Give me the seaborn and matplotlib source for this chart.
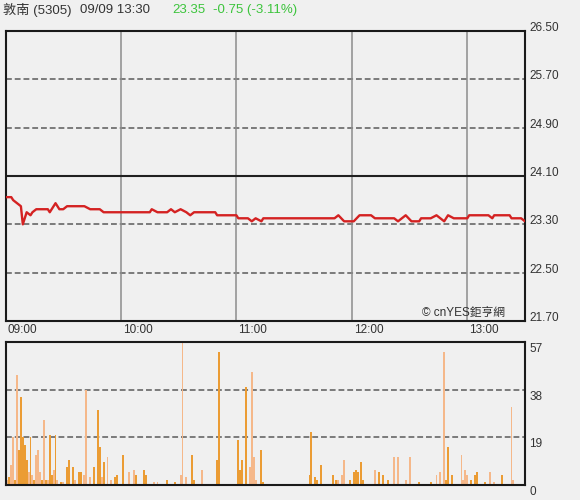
import matplotlib
matplotlib.use('Agg')
import matplotlib.pyplot as plt
import matplotlib.transforms as mtransforms
import seaborn as sns
import pandas as pd

# intraday price (minutes after 09:00, price)
price_min = [0, 3, 4, 6, 8, 9, 11, 13, 14, 16, 22, 23, 24, 26, 28, 30, 32, 38, 41, 44,
             49, 51, 75, 76, 79, 84, 86, 88, 91, 94, 96, 98, 109, 110, 120, 121, 126,
             128, 130, 133, 134, 171, 173, 176, 181, 184, 190, 192, 202, 204, 208, 211,
             215, 216, 221, 224, 228, 230, 233, 240, 241, 251, 253, 254, 262, 263, 268, 270]
price_val = [23.75, 23.75, 23.70, 23.65, 23.60, 23.30, 23.50, 23.45, 23.50, 23.55, 23.55,
             23.50, 23.55, 23.65, 23.55, 23.55, 23.60, 23.60, 23.60, 23.55, 23.55, 23.50,
             23.50, 23.55, 23.50, 23.50, 23.55, 23.50, 23.55, 23.50, 23.45, 23.50, 23.50,
             23.45, 23.45, 23.40, 23.40, 23.35, 23.40, 23.35, 23.40, 23.40, 23.45, 23.35,
             23.35, 23.45, 23.45, 23.40, 23.40, 23.35, 23.45, 23.35, 23.35, 23.40, 23.40,
             23.45, 23.35, 23.45, 23.40, 23.40, 23.45, 23.45, 23.40, 23.45, 23.45, 23.40,
             23.40, 23.35]

# volume per minute; 'P' = light bar, 'O' = orange bar
vol_min = [0, 1, 2, 3, 4, 5, 6, 7, 8, 9, 10, 11, 12, 13, 14, 15, 16, 17, 18, 19, 20, 21,
           22, 23, 24, 25, 26, 27, 29, 30, 32, 33, 35, 36, 38, 39, 41, 42, 44, 46, 48, 49,
           50, 51, 53, 55, 57, 58, 61, 64, 67, 68, 72, 73, 77, 79, 84, 88, 91, 92, 94, 97,
           98, 102, 110, 111, 121, 122, 123, 125, 127, 128, 129, 130, 133, 134, 158, 159,
           161, 162, 164, 170, 172, 173, 175, 176, 179, 181, 182, 183, 185, 186, 192, 194,
           196, 199, 202, 204, 208, 210, 215, 221, 224, 226, 228, 229, 230, 232, 237, 238,
           239, 240, 242, 244, 245, 249, 252, 254, 258, 263, 264, 270]
vol_val = [42, 2, 3, 8, 19, 2, 44, 14, 35, 19, 16, 10, 5, 19, 4, 2, 12, 14, 5, 2, 26, 2,
           2, 20, 4, 6, 20, 2, 1, 1, 7, 10, 7, 2, 5, 5, 4, 38, 3, 7, 30, 15,
           3, 9, 11, 2, 3, 4, 12, 5, 6, 4, 6, 4, 1, 1, 2, 1, 4, 57, 3, 12,
           2, 6, 10, 53, 18, 6, 10, 39, 7, 45, 11, 2, 14, 1, 4, 21,
           3, 2, 8, 4, 2, 2, 4, 10, 2, 5, 6, 5, 9, 2, 6, 5,
           4, 2, 11, 11, 2, 11, 1, 1, 4, 5, 53, 2, 15, 4, 12, 2,
           6, 4, 2, 4, 5, 1, 5, 1, 4, 31, 2, 48]
vol_kind = ['O', 'P', 'O', 'P', 'P', 'O', 'P', 'O', 'O', 'O', 'O', 'O', 'P', 'O', 'P', 'O',
            'P', 'P', 'P', 'O', 'P', 'O', 'P', 'O', 'O', 'P', 'O', 'P', 'O', 'P', 'O', 'O',
            'O', 'P', 'O', 'O', 'P', 'P', 'P', 'O', 'O', 'O', 'P', 'O', 'P', 'P', 'O', 'O',
            'O', 'P', 'P', 'O', 'O', 'O', 'P', 'P', 'O', 'O', 'P', 'P', 'P', 'O', 'O', 'P',
            'O', 'O', 'O', 'O', 'O', 'O', 'P', 'P', 'P', 'P', 'O', 'O', 'O', 'O', 'O', 'O',
            'O', 'O', 'O', 'P', 'P', 'P', 'O', 'O', 'O', 'O', 'O', 'O', 'P', 'O', 'O', 'O',
            'P', 'P', 'P', 'P', 'O', 'O', 'P', 'P', 'P', 'O', 'O', 'O', 'P', 'P', 'P', 'P',
            'O', 'O', 'O', 'O', 'P', 'P', 'O', 'P', 'P', 'O']

price_ticks = [21.70, 22.50, 23.30, 24.10, 24.90, 25.70, 26.50]
prev_close = 24.10
vol_ticks = [0, 19, 38, 57]
hour_ticks = [0, 60, 120, 180, 240]
hour_labels = ['09:00', '10:00', '11:00', '12:00', '13:00']

bg = '#f0f0f0'
sns.set_style('white', {'axes.facecolor': bg, 'figure.facecolor': bg})
plt.rcParams['font.family'] = ['Liberation Sans', 'Noto Sans CJK TC', 'DejaVu Sans']

fig = plt.figure(figsize=(5.8, 5.0), dpi=100)
ax = fig.add_axes([5.5 / 580, 1 - 321 / 500, 519.5 / 580, 290 / 500])
axv = fig.add_axes([5.5 / 580, 1 - 485 / 500, 519.5 / 580, 143 / 500])

price = pd.DataFrame({'minute': price_min, 'price': price_val})
vol = pd.DataFrame({'minute': vol_min, 'volume': vol_val, 'kind': vol_kind})

dash = (0, (3.0, 1.5))

# price panel
for y in price_ticks[1:-1]:
    if y != prev_close:
        ax.axhline(y, color='#7a7a7a', lw=1.4, ls=dash, zorder=1)
for x in hour_ticks[1:]:
    ax.axvline(x, color='#8c8c8c', lw=1.1, zorder=1)
ax.axhline(prev_close, color='#202020', lw=1.5, zorder=2)
sns.lineplot(data=price, x='minute', y='price', ax=ax, color='#d42222', lw=1.7, zorder=3)
ax.set_xlim(0, 270)
ax.set_ylim(21.70, 26.50)
ax.set_yticks(price_ticks)
ax.set_yticklabels([f'{v:.2f}' for v in price_ticks])
ax.yaxis.tick_right()
ax.set_xticks(hour_ticks)
ax.set_xticklabels(hour_labels)
ax.tick_params(axis='both', length=0, labelsize=8.5, colors='#333333')
ax.tick_params(axis='y', pad=3)
ax.tick_params(axis='x', pad=2)
off = mtransforms.ScaledTranslation(2 / 100, 0, fig.dpi_scale_trans)
for lbl in ax.get_xticklabels():
    lbl.set_ha('left')
    lbl.set_transform(lbl.get_transform() + off)
up = mtransforms.ScaledTranslation(0, 3 / 100, fig.dpi_scale_trans)
for lbl in ax.get_yticklabels():
    lbl.set_va('center')
    lbl.set_transform(lbl.get_transform() + up)
ax.set_xlabel('')
ax.set_ylabel('')
for s in ax.spines.values():
    s.set_color('#1a1a1a')
    s.set_linewidth(1.5)
    s.set_visible(True)

# volume panel
for y in vol_ticks[1:-1]:
    axv.axhline(y, color='#7a7a7a', lw=1.4, ls=dash, zorder=1)
colors = {'P': '#f5b88a', 'O': '#eb9c34'}
for k in ['P', 'O']:
    sub = vol[vol['kind'] == k]
    axv.bar(sub['minute'], sub['volume'], width=1.0, color=colors[k], lw=0, zorder=2)
axv.set_xlim(0, 270)
axv.set_ylim(0, 57)
axv.set_xticks([])
axv.set_yticks(vol_ticks)
axv.set_yticklabels([str(v) for v in vol_ticks])
axv.yaxis.tick_right()
axv.tick_params(axis='y', length=0, labelsize=8.5, colors='#333333', pad=3)
down = mtransforms.ScaledTranslation(0, -1 / 100, fig.dpi_scale_trans)
for lbl in axv.get_yticklabels():
    lbl.set_va('top')
    lbl.set_transform(lbl.get_transform() + down)
for s in axv.spines.values():
    s.set_color('#1a1a1a')
    s.set_linewidth(1.5)
    s.set_visible(True)

# header
fig.text(3 / 580, 1 - 10 / 500, '敦南 (5305)', fontsize=9.5, color='#333333', va='center')
fig.text(80 / 580, 1 - 10 / 500, '09/09 13:30', fontsize=9.5, color='#333333', va='center')
fig.text(172 / 580, 1 - 10 / 500, '23.35', fontsize=9.5, color='#3cc43c', va='center')
fig.text(213 / 580, 1 - 10 / 500, '-0.75 (-3.11%)', fontsize=9.5, color='#3cc43c', va='center')
fig.text(422 / 580, 1 - 313 / 500, '© cnYES鉅亨網', fontsize=8.5, color='#333333', va='center')

fig.savefig('out.png', dpi=100, facecolor=bg)
